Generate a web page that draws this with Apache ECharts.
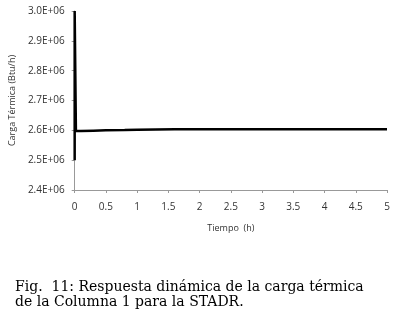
<!DOCTYPE html>
<html>
<head>
<meta charset="utf-8">
<script src="https://cdn.jsdelivr.net/npm/echarts@6/dist/echarts.min.js"></script>
<style>
  html, body { margin: 0; padding: 0; background: #fff; }
  #chart { width: 394px; height: 315px; }
</style>
</head>
<body>
<div id="chart"></div>
<script>
    // tiempo (h) y carga termica (Btu/h)
    var tiempo = [0, 0, 0.02, 0.1, 0.3, 0.5, 0.8, 1.0, 1.3, 1.6, 2, 2.5, 3, 3.5, 4, 4.5, 5];
    var carga = [2.5e6, 3.0e6, 2.598e6, 2.598e6, 2.599e6, 2.600e6, 2.601e6, 2.602e6, 2.603e6, 2.604e6, 2.604e6, 2.604e6, 2.604e6, 2.604e6, 2.604e6, 2.604e6, 2.604e6];
    var captionLines = [
        'Fig.  11: Respuesta dinámica de la carga térmica',
        'de la Columna 1 para la STADR.'
    ];

    var puntos = tiempo.map(function (t, i) { return [t, carga[i]]; });

    var labelStyle = {
        fontFamily: 'Open Sans',
        fontSize: 10,
        color: '#333'
    };

    var option = {
        animation: false,
        grid: {
            left: 74,
            top: 11,
            right: 7,
            bottom: 125
        },
        xAxis: {
            type: 'value',
            min: 0,
            max: 5,
            interval: 0.5,
            name: 'Tiempo  (h)',
            nameLocation: 'middle',
            nameGap: 34,
            nameTextStyle: { fontFamily: 'Open Sans', fontSize: 9, color: '#333' },
            axisLine: { lineStyle: { color: '#999', width: 1 } },
            axisTick: { show: true, length: 3, lineStyle: { color: '#999' } },
            splitLine: { show: false },
            axisLabel: Object.assign({ margin: 12 }, labelStyle)
        },
        yAxis: {
            type: 'value',
            min: 2.4e6,
            max: 3.0e6,
            interval: 0.1e6,
            name: 'Carga Térmica (Btu/h)',
            nameLocation: 'middle',
            nameRotate: 90,
            nameGap: 56,
            nameTextStyle: { fontFamily: 'Open Sans', fontSize: 9, color: '#333' },
            axisLine: { show: true, lineStyle: { color: '#999', width: 1 } },
            axisTick: { show: true, length: 3, lineStyle: { color: '#999' } },
            splitLine: { show: false },
            axisLabel: Object.assign({
                margin: 10,
                formatter: function (v) { return (v / 1e6).toFixed(1) + 'E+06'; }
            }, labelStyle)
        },
        series: [{
            type: 'line',
            data: puntos,
            showSymbol: false,
            smooth: false,
            lineStyle: { color: '#000', width: 2.5 }
        }],
        graphic: captionLines.map(function (txt, i) {
            return {
                type: 'text',
                left: 15,
                top: 280 + i * 15,
                style: {
                    text: txt,
                    font: '14px "DejaVu Serif"',
                    fill: '#000'
                }
            };
        })
    };

    var chart = echarts.init(document.getElementById('chart'));
    chart.setOption(option);
</script>
</body>
</html>
